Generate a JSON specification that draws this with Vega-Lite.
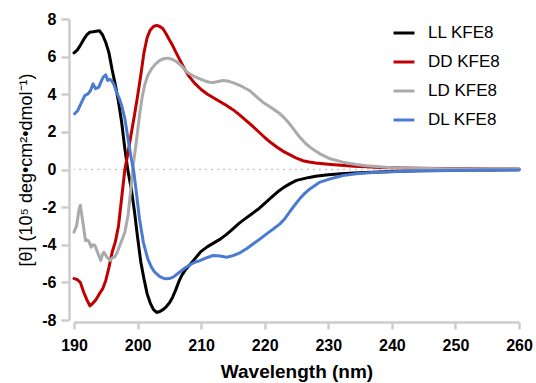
{
  "$schema": "https://vega.github.io/schema/vega-lite/v6.json",
  "width": 445,
  "height": 301,
  "autosize": {"type": "none"},
  "padding": {"left": 74, "top": 19, "right": 17, "bottom": 63},
  "background": "white",
  "config": {"view": {"stroke": null}, "font": "Liberation Sans"},
  "layer": [
    {
      "data": {"values": [{}]},
      "mark": {"type": "rule", "strokeDash": [2, 4], "color": "#c8c8c8", "strokeWidth": 1.5},
      "encoding": {"y": {"datum": 0, "type": "quantitative", "scale": {"domain": [-8, 8], "nice": false, "zero": false},
          "axis": {
            "values": [-8, -6, -4, -2, 0, 2, 4, 6, 8], "labelExpr": "datum.value", "labelOverlap": false, "labelFlush": false,
            "grid": false, "offset": 5,
            "domainColor": "#cccccc", "domainWidth": 2.5,
            "tickColor": "#cccccc", "tickWidth": 2.5, "tickSize": 8,
            "labelFont": "Liberation Sans", "labelFontSize": 16, "labelFontWeight": "bold", "labelColor": "#000000", "labelPadding": 5,
            "title": "[θ] (10⁵ deg•cm²•dmol⁻¹)", "titleFont": "Liberation Sans", "titleFontSize": 18, "titleFontWeight": "normal", "titleColor": "#000000", "titlePadding": 6
          }}}
    },
    {
      "data": {"values": [
        {"s":"LL KFE8","wl":190,"v":6.2},{"s":"LL KFE8","wl":190.5,"v":6.35},{"s":"LL KFE8","wl":191,"v":6.6},{"s":"LL KFE8","wl":191.5,"v":6.9},{"s":"LL KFE8","wl":192,"v":7.15},{"s":"LL KFE8","wl":192.5,"v":7.3},{"s":"LL KFE8","wl":193,"v":7.32},{"s":"LL KFE8","wl":193.5,"v":7.35},{"s":"LL KFE8","wl":194,"v":7.38},{"s":"LL KFE8","wl":194.5,"v":7.15},{"s":"LL KFE8","wl":195,"v":6.75},{"s":"LL KFE8","wl":195.5,"v":6.2},{"s":"LL KFE8","wl":196,"v":5.3},{"s":"LL KFE8","wl":196.5,"v":4.5},{"s":"LL KFE8","wl":197,"v":3.6},{"s":"LL KFE8","wl":197.5,"v":2.5},{"s":"LL KFE8","wl":198,"v":1.1},{"s":"LL KFE8","wl":198.5,"v":-0.1},{"s":"LL KFE8","wl":199,"v":-1.0},{"s":"LL KFE8","wl":199.5,"v":-2.2},{"s":"LL KFE8","wl":200,"v":-3.6},{"s":"LL KFE8","wl":200.5,"v":-4.9},{"s":"LL KFE8","wl":201,"v":-5.8},{"s":"LL KFE8","wl":201.5,"v":-6.6},{"s":"LL KFE8","wl":202,"v":-7.1},{"s":"LL KFE8","wl":202.5,"v":-7.45},{"s":"LL KFE8","wl":203,"v":-7.6},{"s":"LL KFE8","wl":203.5,"v":-7.55},{"s":"LL KFE8","wl":204,"v":-7.45},{"s":"LL KFE8","wl":204.5,"v":-7.3},{"s":"LL KFE8","wl":205,"v":-7.1},{"s":"LL KFE8","wl":205.5,"v":-6.8},{"s":"LL KFE8","wl":206,"v":-6.4},{"s":"LL KFE8","wl":206.5,"v":-5.95},{"s":"LL KFE8","wl":207,"v":-5.6},{"s":"LL KFE8","wl":207.5,"v":-5.35},{"s":"LL KFE8","wl":208,"v":-5.15},{"s":"LL KFE8","wl":209,"v":-4.75},{"s":"LL KFE8","wl":210,"v":-4.35},{"s":"LL KFE8","wl":211,"v":-4.1},{"s":"LL KFE8","wl":212,"v":-3.9},{"s":"LL KFE8","wl":213,"v":-3.7},{"s":"LL KFE8","wl":214,"v":-3.45},{"s":"LL KFE8","wl":215,"v":-3.15},{"s":"LL KFE8","wl":216,"v":-2.85},{"s":"LL KFE8","wl":217,"v":-2.6},{"s":"LL KFE8","wl":218,"v":-2.35},{"s":"LL KFE8","wl":219,"v":-2.1},{"s":"LL KFE8","wl":220,"v":-1.8},{"s":"LL KFE8","wl":221,"v":-1.5},{"s":"LL KFE8","wl":222,"v":-1.2},{"s":"LL KFE8","wl":223,"v":-0.95},{"s":"LL KFE8","wl":224,"v":-0.75},{"s":"LL KFE8","wl":225,"v":-0.58},{"s":"LL KFE8","wl":226,"v":-0.5},{"s":"LL KFE8","wl":227,"v":-0.42},{"s":"LL KFE8","wl":228,"v":-0.36},{"s":"LL KFE8","wl":230,"v":-0.28},{"s":"LL KFE8","wl":232,"v":-0.23},{"s":"LL KFE8","wl":234,"v":-0.19},{"s":"LL KFE8","wl":236,"v":-0.16},{"s":"LL KFE8","wl":238,"v":-0.13},{"s":"LL KFE8","wl":240,"v":-0.1},{"s":"LL KFE8","wl":244,"v":-0.07},{"s":"LL KFE8","wl":248,"v":-0.05},{"s":"LL KFE8","wl":252,"v":-0.03},{"s":"LL KFE8","wl":256,"v":-0.02},{"s":"LL KFE8","wl":260,"v":-0.01},

        {"s":"DD KFE8","wl":190,"v":-5.8},{"s":"DD KFE8","wl":190.5,"v":-5.85},{"s":"DD KFE8","wl":191,"v":-6.0},{"s":"DD KFE8","wl":191.5,"v":-6.5},{"s":"DD KFE8","wl":192,"v":-6.9},{"s":"DD KFE8","wl":192.5,"v":-7.25},{"s":"DD KFE8","wl":193,"v":-7.1},{"s":"DD KFE8","wl":193.5,"v":-6.9},{"s":"DD KFE8","wl":194,"v":-6.6},{"s":"DD KFE8","wl":194.5,"v":-6.35},{"s":"DD KFE8","wl":195,"v":-5.9},{"s":"DD KFE8","wl":195.5,"v":-5.2},{"s":"DD KFE8","wl":196,"v":-4.4},{"s":"DD KFE8","wl":196.5,"v":-3.85},{"s":"DD KFE8","wl":197,"v":-3.0},{"s":"DD KFE8","wl":197.5,"v":-1.5},{"s":"DD KFE8","wl":198,"v":0.0},{"s":"DD KFE8","wl":198.5,"v":0.9},{"s":"DD KFE8","wl":199,"v":1.9},{"s":"DD KFE8","wl":199.5,"v":2.87},{"s":"DD KFE8","wl":200,"v":3.9},{"s":"DD KFE8","wl":200.5,"v":5.0},{"s":"DD KFE8","wl":201,"v":6.2},{"s":"DD KFE8","wl":201.5,"v":7.0},{"s":"DD KFE8","wl":202,"v":7.42},{"s":"DD KFE8","wl":202.5,"v":7.6},{"s":"DD KFE8","wl":203,"v":7.66},{"s":"DD KFE8","wl":203.5,"v":7.6},{"s":"DD KFE8","wl":204,"v":7.48},{"s":"DD KFE8","wl":204.5,"v":7.2},{"s":"DD KFE8","wl":205,"v":6.9},{"s":"DD KFE8","wl":205.5,"v":6.6},{"s":"DD KFE8","wl":206,"v":6.25},{"s":"DD KFE8","wl":206.5,"v":5.92},{"s":"DD KFE8","wl":207,"v":5.6},{"s":"DD KFE8","wl":207.5,"v":5.27},{"s":"DD KFE8","wl":208,"v":5.0},{"s":"DD KFE8","wl":209,"v":4.58},{"s":"DD KFE8","wl":210,"v":4.25},{"s":"DD KFE8","wl":211,"v":4.0},{"s":"DD KFE8","wl":212,"v":3.8},{"s":"DD KFE8","wl":213,"v":3.6},{"s":"DD KFE8","wl":214,"v":3.4},{"s":"DD KFE8","wl":215,"v":3.18},{"s":"DD KFE8","wl":216,"v":2.92},{"s":"DD KFE8","wl":217,"v":2.63},{"s":"DD KFE8","wl":218,"v":2.33},{"s":"DD KFE8","wl":219,"v":2.02},{"s":"DD KFE8","wl":220,"v":1.7},{"s":"DD KFE8","wl":221,"v":1.42},{"s":"DD KFE8","wl":222,"v":1.17},{"s":"DD KFE8","wl":223,"v":0.95},{"s":"DD KFE8","wl":224,"v":0.78},{"s":"DD KFE8","wl":225,"v":0.6},{"s":"DD KFE8","wl":226,"v":0.47},{"s":"DD KFE8","wl":227,"v":0.4},{"s":"DD KFE8","wl":228,"v":0.35},{"s":"DD KFE8","wl":230,"v":0.28},{"s":"DD KFE8","wl":232,"v":0.22},{"s":"DD KFE8","wl":234,"v":0.17},{"s":"DD KFE8","wl":236,"v":0.14},{"s":"DD KFE8","wl":238,"v":0.11},{"s":"DD KFE8","wl":240,"v":0.09},{"s":"DD KFE8","wl":244,"v":0.07},{"s":"DD KFE8","wl":248,"v":0.05},{"s":"DD KFE8","wl":252,"v":0.04},{"s":"DD KFE8","wl":256,"v":0.03},{"s":"DD KFE8","wl":260,"v":0.03},

        {"s":"LD KFE8","wl":190,"v":-3.33},{"s":"LD KFE8","wl":190.4,"v":-3.0},{"s":"LD KFE8","wl":190.8,"v":-2.1},{"s":"LD KFE8","wl":191.0,"v":-1.9},{"s":"LD KFE8","wl":191.4,"v":-2.8},{"s":"LD KFE8","wl":191.8,"v":-3.77},{"s":"LD KFE8","wl":192.1,"v":-3.75},{"s":"LD KFE8","wl":192.4,"v":-3.86},{"s":"LD KFE8","wl":192.7,"v":-4.13},{"s":"LD KFE8","wl":193.0,"v":-4.0},{"s":"LD KFE8","wl":193.3,"v":-4.04},{"s":"LD KFE8","wl":193.8,"v":-4.48},{"s":"LD KFE8","wl":194.2,"v":-4.84},{"s":"LD KFE8","wl":194.5,"v":-4.5},{"s":"LD KFE8","wl":194.7,"v":-4.4},{"s":"LD KFE8","wl":195.2,"v":-4.66},{"s":"LD KFE8","wl":195.7,"v":-4.84},{"s":"LD KFE8","wl":196.0,"v":-4.7},{"s":"LD KFE8","wl":196.4,"v":-4.66},{"s":"LD KFE8","wl":196.8,"v":-4.4},{"s":"LD KFE8","wl":197.2,"v":-4.04},{"s":"LD KFE8","wl":197.6,"v":-3.7},{"s":"LD KFE8","wl":198.0,"v":-3.33},{"s":"LD KFE8","wl":198.5,"v":-2.45},{"s":"LD KFE8","wl":199.0,"v":-0.85},{"s":"LD KFE8","wl":199.3,"v":0.2},{"s":"LD KFE8","wl":199.8,"v":1.45},{"s":"LD KFE8","wl":200.3,"v":2.87},{"s":"LD KFE8","wl":200.7,"v":3.8},{"s":"LD KFE8","wl":201.1,"v":4.47},{"s":"LD KFE8","wl":201.6,"v":5.0},{"s":"LD KFE8","wl":202.2,"v":5.35},{"s":"LD KFE8","wl":202.8,"v":5.6},{"s":"LD KFE8","wl":203.5,"v":5.8},{"s":"LD KFE8","wl":204.2,"v":5.9},{"s":"LD KFE8","wl":204.8,"v":5.92},{"s":"LD KFE8","wl":205.5,"v":5.85},{"s":"LD KFE8","wl":206.1,"v":5.74},{"s":"LD KFE8","wl":206.6,"v":5.6},{"s":"LD KFE8","wl":207.2,"v":5.4},{"s":"LD KFE8","wl":207.7,"v":5.2},{"s":"LD KFE8","wl":208.2,"v":5.09},{"s":"LD KFE8","wl":209,"v":4.93},{"s":"LD KFE8","wl":209.8,"v":4.82},{"s":"LD KFE8","wl":210.5,"v":4.72},{"s":"LD KFE8","wl":211.3,"v":4.64},{"s":"LD KFE8","wl":212,"v":4.63},{"s":"LD KFE8","wl":212.7,"v":4.68},{"s":"LD KFE8","wl":213.4,"v":4.73},{"s":"LD KFE8","wl":214.2,"v":4.7},{"s":"LD KFE8","wl":215,"v":4.62},{"s":"LD KFE8","wl":215.5,"v":4.55},{"s":"LD KFE8","wl":216.5,"v":4.4},{"s":"LD KFE8","wl":217.6,"v":4.2},{"s":"LD KFE8","wl":218.6,"v":3.9},{"s":"LD KFE8","wl":219.7,"v":3.58},{"s":"LD KFE8","wl":221,"v":3.3},{"s":"LD KFE8","wl":222.4,"v":2.96},{"s":"LD KFE8","wl":223.2,"v":2.7},{"s":"LD KFE8","wl":223.9,"v":2.43},{"s":"LD KFE8","wl":224.7,"v":2.08},{"s":"LD KFE8","wl":225.5,"v":1.72},{"s":"LD KFE8","wl":226.3,"v":1.43},{"s":"LD KFE8","wl":227.1,"v":1.19},{"s":"LD KFE8","wl":228,"v":0.98},{"s":"LD KFE8","wl":228.7,"v":0.83},{"s":"LD KFE8","wl":230.3,"v":0.57},{"s":"LD KFE8","wl":232.3,"v":0.39},{"s":"LD KFE8","wl":234.4,"v":0.27},{"s":"LD KFE8","wl":236,"v":0.2},{"s":"LD KFE8","wl":237.6,"v":0.16},{"s":"LD KFE8","wl":240,"v":0.09},{"s":"LD KFE8","wl":244,"v":0.06},{"s":"LD KFE8","wl":248,"v":0.04},{"s":"LD KFE8","wl":252,"v":0.03},{"s":"LD KFE8","wl":256,"v":0.02},{"s":"LD KFE8","wl":260,"v":0.02},

        {"s":"DL KFE8","wl":190.1,"v":2.96},{"s":"DL KFE8","wl":190.6,"v":3.14},{"s":"DL KFE8","wl":191.2,"v":3.58},{"s":"DL KFE8","wl":191.7,"v":3.93},{"s":"DL KFE8","wl":192.2,"v":4.02},{"s":"DL KFE8","wl":192.6,"v":4.2},{"s":"DL KFE8","wl":193.0,"v":4.55},{"s":"DL KFE8","wl":193.4,"v":4.29},{"s":"DL KFE8","wl":193.9,"v":4.38},{"s":"DL KFE8","wl":194.3,"v":4.7},{"s":"DL KFE8","wl":194.6,"v":4.91},{"s":"DL KFE8","wl":195.0,"v":5.03},{"s":"DL KFE8","wl":195.3,"v":4.73},{"s":"DL KFE8","wl":195.6,"v":4.8},{"s":"DL KFE8","wl":195.9,"v":4.73},{"s":"DL KFE8","wl":196.3,"v":4.5},{"s":"DL KFE8","wl":196.7,"v":4.11},{"s":"DL KFE8","wl":197.1,"v":3.8},{"s":"DL KFE8","wl":197.5,"v":3.4},{"s":"DL KFE8","wl":198.0,"v":2.7},{"s":"DL KFE8","wl":198.5,"v":1.63},{"s":"DL KFE8","wl":199.0,"v":0.6},{"s":"DL KFE8","wl":199.4,"v":-0.1},{"s":"DL KFE8","wl":199.8,"v":-1.2},{"s":"DL KFE8","wl":200.3,"v":-2.62},{"s":"DL KFE8","wl":200.9,"v":-3.86},{"s":"DL KFE8","wl":201.6,"v":-4.75},{"s":"DL KFE8","wl":202.2,"v":-5.2},{"s":"DL KFE8","wl":202.7,"v":-5.46},{"s":"DL KFE8","wl":203.5,"v":-5.7},{"s":"DL KFE8","wl":204.3,"v":-5.81},{"s":"DL KFE8","wl":205.0,"v":-5.8},{"s":"DL KFE8","wl":205.6,"v":-5.72},{"s":"DL KFE8","wl":206.6,"v":-5.46},{"s":"DL KFE8","wl":207.4,"v":-5.25},{"s":"DL KFE8","wl":208.2,"v":-5.07},{"s":"DL KFE8","wl":209,"v":-4.93},{"s":"DL KFE8","wl":209.8,"v":-4.84},{"s":"DL KFE8","wl":210.8,"v":-4.7},{"s":"DL KFE8","wl":211.9,"v":-4.57},{"s":"DL KFE8","wl":213,"v":-4.6},{"s":"DL KFE8","wl":214,"v":-4.66},{"s":"DL KFE8","wl":215,"v":-4.58},{"s":"DL KFE8","wl":216.1,"v":-4.43},{"s":"DL KFE8","wl":217.2,"v":-4.2},{"s":"DL KFE8","wl":218.2,"v":-3.95},{"s":"DL KFE8","wl":219.3,"v":-3.68},{"s":"DL KFE8","wl":220.3,"v":-3.42},{"s":"DL KFE8","wl":221.4,"v":-3.15},{"s":"DL KFE8","wl":222.4,"v":-2.89},{"s":"DL KFE8","wl":223.2,"v":-2.6},{"s":"DL KFE8","wl":223.9,"v":-2.27},{"s":"DL KFE8","wl":224.7,"v":-1.9},{"s":"DL KFE8","wl":225.5,"v":-1.56},{"s":"DL KFE8","wl":226.3,"v":-1.27},{"s":"DL KFE8","wl":227.1,"v":-1.03},{"s":"DL KFE8","wl":228.7,"v":-0.67},{"s":"DL KFE8","wl":230.3,"v":-0.5},{"s":"DL KFE8","wl":232.3,"v":-0.32},{"s":"DL KFE8","wl":234.4,"v":-0.23},{"s":"DL KFE8","wl":237.6,"v":-0.14},{"s":"DL KFE8","wl":241.3,"v":-0.1},{"s":"DL KFE8","wl":245,"v":-0.07},{"s":"DL KFE8","wl":250,"v":-0.05},{"s":"DL KFE8","wl":255,"v":-0.03},{"s":"DL KFE8","wl":260,"v":-0.02}
      ]},
      "mark": {"type": "line", "strokeWidth": 3, "strokeJoin": "round", "strokeCap": "round"},
      "encoding": {
        "x": {
          "field": "wl", "type": "quantitative",
          "scale": {"domain": [190, 260], "nice": false, "zero": false},
          "axis": {
            "values": [190, 200, 210, 220, 230, 240, 250, 260], "labelOverlap": false, "labelFlush": false,
            "grid": false, "offset": 2,
            "domainColor": "#cccccc", "domainWidth": 2.5,
            "tickColor": "#cccccc", "tickWidth": 2.5, "tickSize": 7,
            "labelFont": "Liberation Sans", "labelFontSize": 16, "labelFontWeight": "bold", "labelColor": "#000000", "labelPadding": 8,
            "title": "Wavelength (nm)", "titleFont": "Liberation Sans", "titleFontSize": 19, "titleFontWeight": "bold", "titleColor": "#000000", "titlePadding": 9
          }
        },
        "y": {
          "field": "v", "type": "quantitative",
          "scale": {"domain": [-8, 8], "nice": false, "zero": false},
          "axis": {
            "values": [-8, -6, -4, -2, 0, 2, 4, 6, 8], "labelExpr": "datum.value", "labelOverlap": false, "labelFlush": false,
            "grid": false, "offset": 5,
            "domainColor": "#cccccc", "domainWidth": 2.5,
            "tickColor": "#cccccc", "tickWidth": 2.5, "tickSize": 8,
            "labelFont": "Liberation Sans", "labelFontSize": 16, "labelFontWeight": "bold", "labelColor": "#000000", "labelPadding": 5,
            "title": "[θ] (10⁵ deg•cm²•dmol⁻¹)", "titleFont": "Liberation Sans", "titleFontSize": 18, "titleFontWeight": "normal", "titleColor": "#000000", "titlePadding": 6
          }
        },
        "color": {
          "field": "s", "type": "nominal",
          "scale": {"domain": ["LL KFE8", "DD KFE8", "LD KFE8", "DL KFE8"], "range": ["#000000", "#c00000", "#aaaaaa", "#4a7bd0"]},
          "legend": {
            "title": null, "orient": "none", "legendX": 318, "legendY": 2,
            "symbolType": "stroke", "symbolStrokeWidth": 3, "symbolSize": 441,
            "labelFont": "Liberation Sans", "labelFontSize": 17, "labelColor": "#000000", "labelOffset": 12,
            "rowPadding": 9
          }
        }
      }
    }
  ]
}
